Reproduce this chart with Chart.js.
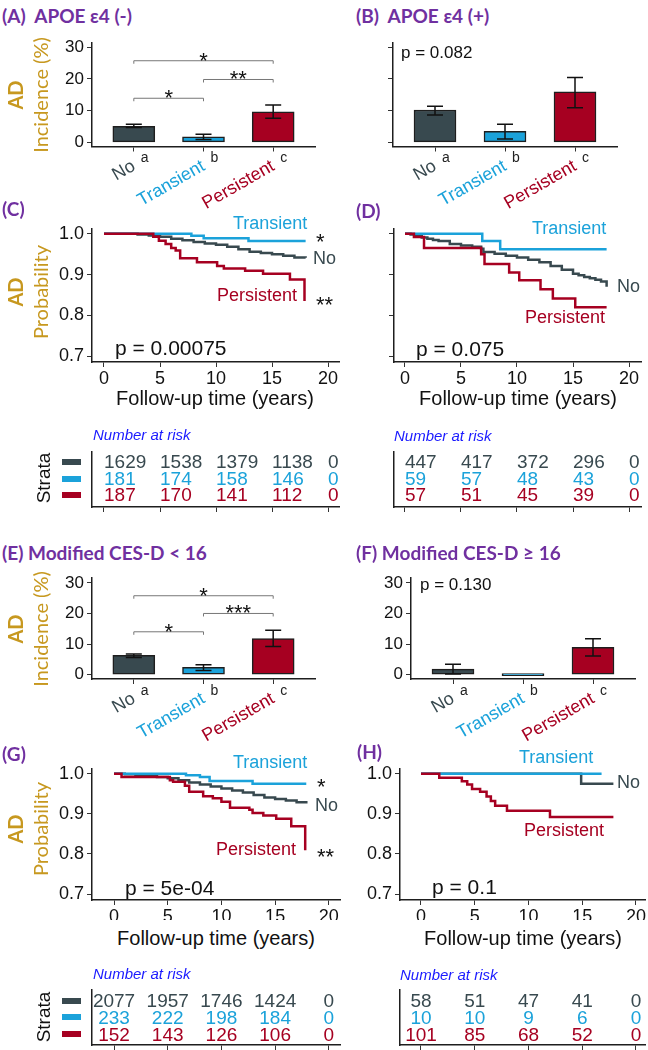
<!DOCTYPE html>
<html>
<head>
<meta charset="utf-8">
<script src="https://cdn.jsdelivr.net/npm/chart.js@4.4.1/dist/chart.umd.min.js"></script>
<style>
  body { margin: 0; background: #fff; }
  #page { position: relative; width: 648px; height: 1050px; overflow: hidden; font-family: "Liberation Sans", Arial, sans-serif; }
  canvas { position: absolute; }
  .t { position: absolute; white-space: pre; line-height: 1; }
</style>
</head>
<body>
<div id="page"></div>
<script>
// groups
const groups = ['No', 'Transient', 'Persistent'];
const groupLetters = ['a', 'b', 'c'];
const groupColors = ['#38494f', '#1ba2da', '#a60021'];

// AD incidence (%) per group, with error bar ends
const incA = [5.1, 1.8, 9.6];
const incA_lo = [4.7, 0.9, 7.6];
const incA_hi = [5.7, 2.6, 11.8];
const incB = [10.2, 3.5, 15.9];
const incB_lo = [8.6, 1.1, 10.9];
const incB_hi = [11.4, 5.7, 20.4];
const incE = [6.3, 2.4, 11.8];
const incE_lo = [5.6, 1.3, 9.2];
const incE_hi = [6.7, 3.2, 14.5];
const incF = [1.8, 0, 8.9];
const incF_lo = [0.2, 0, 6.1];
const incF_hi = [3.4, 0, 11.75];
const barTicks = [0, 10, 20, 30];

// pairwise brackets: [from group, to group, height, stars]
const bracketsA = [[1, 3, 25.7, '*'], [2, 3, 19.8, '**'], [1, 2, 13.9, '*']];
const bracketsE = [[1, 3, 25.8, '*'], [2, 3, 20.0, '***'], [1, 2, 14.0, '*']];

// Kaplan-Meier curves (time in years, probability free of AD)
const kmC_no_t = [0, 3, 4, 5, 6, 7, 8, 9, 10, 11, 12, 13, 14, 15, 16, 17, 18];
const kmC_no_s = [1, 0.998, 0.996, 0.993, 0.988, 0.984, 0.980, 0.976, 0.973, 0.968, 0.962, 0.956, 0.953, 0.950, 0.946, 0.942, 0.941];
const kmC_tr_t = [0, 7.8, 8.9, 12.9, 18];
const kmC_tr_s = [1, 0.995, 0.989, 0.982, 0.982];
const kmC_pe_t = [0, 4.4, 4.9, 5.5, 6.0, 6.4, 6.8, 8.3, 10.1, 10.7, 12.6, 14.2, 16.6, 17.9];
const kmC_pe_s = [1, 0.993, 0.983, 0.975, 0.965, 0.959, 0.940, 0.930, 0.921, 0.915, 0.909, 0.902, 0.888, 0.835];

const kmD_no_t = [0, 0.5, 1, 1.5, 2, 2.5, 3, 4, 5, 6, 6.8, 7, 8, 9, 10, 11, 12, 13, 14, 15, 15.5, 16, 16.5, 17, 17.5, 18];
const kmD_no_s = [1, 0.998, 0.994, 0.991, 0.988, 0.985, 0.982, 0.975, 0.971, 0.968, 0.963, 0.955, 0.951, 0.946, 0.942, 0.936, 0.930, 0.921, 0.912, 0.902, 0.898, 0.894, 0.891, 0.887, 0.883, 0.870];
const kmD_tr_t = [0, 6.9, 8.5, 18];
const kmD_tr_s = [1, 0.982, 0.962, 0.962];
const kmD_pe_t = [0, 0.8, 1.7, 6.8, 7.1, 9.3, 10.2, 12.1, 13.2, 15.2, 18];
const kmD_pe_s = [1, 0.992, 0.965, 0.950, 0.926, 0.905, 0.886, 0.864, 0.841, 0.820, 0.820];

const kmG_no_t = [0, 1, 2, 3, 4, 5, 6, 7, 8, 9, 10, 11, 12, 13, 14, 15, 16, 17, 17.9];
const kmG_no_s = [1, 0.999, 0.997, 0.995, 0.992, 0.989, 0.984, 0.978, 0.973, 0.968, 0.963, 0.958, 0.953, 0.947, 0.941, 0.937, 0.933, 0.929, 0.926];
const kmG_tr_t = [0, 6.7, 8.0, 8.9, 12.9, 17.9];
const kmG_tr_s = [1, 0.996, 0.992, 0.982, 0.975, 0.975];
const kmG_pe_t = [0, 0.7, 5.2, 5.5, 6.6, 7.0, 8.3, 9.2, 10.0, 10.8, 12.6, 12.9, 13.9, 15.1, 16.5, 17.8];
const kmG_pe_s = [1, 0.992, 0.984, 0.980, 0.970, 0.955, 0.944, 0.939, 0.930, 0.915, 0.910, 0.902, 0.896, 0.888, 0.869, 0.809];

const kmH_no_t = [0, 14.9, 17.9];
const kmH_no_s = [1, 0.975, 0.975];
const kmH_tr_t = [0, 16.8];
const kmH_tr_s = [1, 1];
const kmH_pe_t = [0, 1.7, 3.8, 4.3, 4.75, 5.5, 6.1, 6.5, 6.9, 8.0, 12.0, 17.9];
const kmH_pe_s = [1, 0.990, 0.981, 0.973, 0.962, 0.955, 0.943, 0.932, 0.920, 0.908, 0.892, 0.892];

const kmXTicks = [0, 5, 10, 15, 20];
const kmYTicks = [0.7, 0.8, 0.9, 1.0];

// number at risk
const riskTimes = [0, 5, 10, 15, 20];
const riskC_no = [1629, 1538, 1379, 1138, 0];
const riskC_tr = [181, 174, 158, 146, 0];
const riskC_pe = [187, 170, 141, 112, 0];
const riskD_no = [447, 417, 372, 296, 0];
const riskD_tr = [59, 57, 48, 43, 0];
const riskD_pe = [57, 51, 45, 39, 0];
const riskG_no = [2077, 1957, 1746, 1424, 0];
const riskG_tr = [233, 222, 198, 184, 0];
const riskG_pe = [152, 143, 126, 106, 0];
const riskH_no = [58, 51, 47, 41, 0];
const riskH_tr = [10, 10, 9, 6, 0];
const riskH_pe = [101, 85, 68, 52, 0];


const page = document.getElementById('page');
const SANS = '"Liberation Sans", Arial, sans-serif';
const GOLD = '#c7981f';
const PURPLE = '#7030a0';
Chart.defaults.font.family = SANS;

function makeCanvas(r) {
  const c = document.createElement('canvas');
  c.width = r.w; c.height = r.h;
  c.style.left = r.x + 'px'; c.style.top = r.y + 'px';
  c.style.width = r.w + 'px'; c.style.height = r.h + 'px';
  page.appendChild(c);
  return c;
}

function layoutFor(r, a) {
  return { padding: { left: 0, bottom: 0, top: a.t - r.y, right: r.x + r.w - a.r } };
}

function axisBase(min, max, ticks, fit, labelCb, fontSize) {
  return {
    type: 'linear', min: min, max: max,
    afterBuildTicks: s => { s.ticks = ticks.map(v => ({ value: v })); },
    afterFit: fit,
    grid: { display: true, drawOnChartArea: false, drawTicks: true, tickLength: 5, color: '#333', lineWidth: 1 },
    border: { display: true, color: '#1e1e1e', width: 1.5 },
    ticks: { font: { size: fontSize }, color: '#111', padding: 3, autoSkip: false, maxRotation: 0, minRotation: 0, callback: labelCb }
  };
}

// error bars, brackets and group letters on the bar panels
function barExtras(lo, hi, brackets) {
  return {
    id: 'barExtras',
    afterDatasetsDraw(chart) {
      const { ctx, scales: { x, y }, chartArea } = chart;
      ctx.save();
      ctx.strokeStyle = '#111';
      ctx.lineWidth = 1.5;
      lo.forEach((l, i) => {
        if (l === hi[i]) return;
        const px = x.getPixelForValue(i + 1);
        const y1 = y.getPixelForValue(l), y2 = y.getPixelForValue(hi[i]);
        ctx.beginPath();
        ctx.moveTo(px, y1); ctx.lineTo(px, y2);
        ctx.moveTo(px - 8, y1); ctx.lineTo(px + 8, y1);
        ctx.moveTo(px - 8, y2); ctx.lineTo(px + 8, y2);
        ctx.stroke();
      });
      ctx.strokeStyle = '#777';
      ctx.lineWidth = 1;
      ctx.fillStyle = '#111';
      ctx.font = '22px ' + SANS;
      ctx.textAlign = 'center';
      ctx.textBaseline = 'alphabetic';
      brackets.forEach(b => {
        const x1 = x.getPixelForValue(b[0]), x2 = x.getPixelForValue(b[1]);
        const py = y.getPixelForValue(b[2]);
        ctx.beginPath();
        ctx.moveTo(x1, py + 3); ctx.lineTo(x1, py); ctx.lineTo(x2, py); ctx.lineTo(x2, py + 3);
        ctx.stroke();
        ctx.fillText(b[3], (x1 + x2) / 2, py + 7);
      });
      ctx.font = '14px ' + SANS;
      ctx.fillStyle = '#222';
      ctx.textAlign = 'left';
      ctx.textBaseline = 'middle';
      groupLetters.forEach((g, i) => ctx.fillText(g, x.getPixelForValue(i + 1) + 7, chartArea.bottom + 12));
      ctx.restore();
    }
  };
}

function barChart(r, a, ymin, ymax, vals, lo, hi, brackets, showY) {
  const xs = axisBase(0.4, 3.6, [1, 2, 3], s => { s.height = r.y + r.h - a.b; }, v => groups[v - 1], 18);
  xs.offset = false;
  xs.grid.offset = false;
  xs.ticks.minRotation = 30;
  xs.ticks.maxRotation = 30;
  xs.ticks.padding = 4;
  xs.ticks.color = ctx => groupColors[ctx.index];
  new Chart(makeCanvas(r), {
    type: 'bar',
    data: {
      datasets: [{
        data: vals.map((v, i) => ({ x: i + 1, y: v })),
        backgroundColor: groupColors,
        borderColor: '#1e1e1e',
        borderWidth: 1.5,
        borderSkipped: false,
        barThickness: 42,
        minBarLength: 2
      }]
    },
    options: {
      responsive: false, animation: false, events: [],
      layout: layoutFor(r, a),
      plugins: { legend: { display: false }, tooltip: { enabled: false } },
      scales: {
        x: xs,
        y: axisBase(ymin, ymax, barTicks, s => { s.width = a.l - r.x; }, v => showY ? v : '', 17)
      }
    },
    plugins: [barExtras(lo, hi, brackets)]
  });
}

function kmChart(r, a, xmin, xmax, ymin, ymax, curves, showY) {
  const xs = axisBase(xmin, xmax, kmXTicks, s => { s.height = r.y + r.h - a.b; }, v => v, 18);
  xs.ticks.padding = 1;
  new Chart(makeCanvas(r), {
    type: 'line',
    data: {
      datasets: curves.map((c, i) => ({
        data: c.t.map((t, j) => ({ x: t, y: c.s[j] })),
        borderColor: groupColors[i],
        borderWidth: 2.5,
        stepped: true,
        pointRadius: 0,
        fill: false,
        order: 2 - i
      }))
    },
    options: {
      responsive: false, animation: false, events: [],
      layout: layoutFor(r, a),
      plugins: { legend: { display: false }, tooltip: { enabled: false } },
      scales: {
        x: xs,
        y: axisBase(ymin, ymax, kmYTicks, s => { s.width = a.l - r.x; }, v => showY ? v.toFixed(1) : '', 18)
      }
    }
  });
}

// risk table drawn on its own axes, numbers placed on the time scale
function riskTable(r, a, xmin, xmax, ymin, ymax, rows, align) {
  const numbers = {
    id: 'riskNumbers',
    afterDraw(chart) {
      const { ctx, scales: { x, y } } = chart;
      ctx.save();
      ctx.font = '19px ' + SANS;
      ctx.textAlign = align;
      ctx.textBaseline = 'middle';
      rows.forEach((row, k) => {
        ctx.fillStyle = groupColors[k];
        row.forEach((n, i) => ctx.fillText(String(n), x.getPixelForValue(riskTimes[i]), y.getPixelForValue(k) + 1));
      });
      ctx.restore();
    }
  };
  const xs = axisBase(xmin, xmax, riskTimes, s => { s.height = r.y + r.h - a.b; }, () => '', 10);
  xs.ticks.display = false;
  const ys = axisBase(ymin, ymax, [], s => { s.width = a.l - r.x; }, () => '', 10);
  ys.reverse = true;
  ys.ticks.display = false;
  ys.grid.drawTicks = false;
  new Chart(makeCanvas(r), {
    type: 'line',
    data: { datasets: [{ data: [] }] },
    options: {
      responsive: false, animation: false, events: [],
      layout: layoutFor(r, a),
      plugins: { legend: { display: false }, tooltip: { enabled: false } },
      scales: { x: xs, y: ys }
    },
    plugins: [numbers]
  });
}

function txt(s, x, y, css, anchor) {
  const d = document.createElement('div');
  d.className = 't';
  d.textContent = s;
  d.style.left = x + 'px';
  d.style.top = y + 'px';
  const tx = anchor === 'center' ? '-50%' : anchor === 'right' ? '-100%' : '0';
  d.style.transform = 'translate(' + tx + ',-50%)';
  Object.assign(d.style, css || {});
  page.appendChild(d);
  return d;
}
function vtxt(s, x, y, css) {
  const d = txt(s, x, y, css, 'center');
  d.style.transform = 'translate(-50%,-50%) rotate(-90deg)';
  return d;
}

// ---- bar panels
barChart({ x: 0, y: 30, w: 324, h: 190 }, { l: 92, t: 40, r: 315, b: 146.5 }, -1.28, 31.22, incA, incA_lo, incA_hi, bracketsA, true);
barChart({ x: 324, y: 30, w: 324, h: 190 }, { l: 393, t: 40, r: 617, b: 146.5 }, -1.28, 31.22, incB, incB_lo, incB_hi, [], false);
barChart({ x: 0, y: 565, w: 324, h: 180 }, { l: 92, t: 572, r: 315, b: 679 }, -1.45, 31.54, incE, incE_lo, incE_hi, bracketsE, true);
barChart({ x: 324, y: 565, w: 324, h: 180 }, { l: 411, t: 572, r: 635, b: 679 }, -1.45, 31.54, incF, incF_lo, incF_hi, [], true);

// ---- survival panels
kmChart({ x: 0, y: 215, w: 345, h: 185 }, { l: 92, t: 228, r: 339, b: 362 }, -1.071, 20.98, 0.6854, 1.0122,
  [{ t: kmC_no_t, s: kmC_no_s }, { t: kmC_tr_t, s: kmC_tr_s }, { t: kmC_pe_t, s: kmC_pe_s }], true);
kmChart({ x: 324, y: 215, w: 324, h: 185 }, { l: 394, t: 228, r: 641, b: 362 }, -0.98, 21.07, 0.6854, 1.0122,
  [{ t: kmD_no_t, s: kmD_no_s }, { t: kmD_tr_t, s: kmD_tr_s }, { t: kmD_pe_t, s: kmD_pe_s }], false);
kmChart({ x: 0, y: 755, w: 345, h: 165 }, { l: 92, t: 767, r: 340, b: 900 }, -2.05, 21.04, 0.6853, 1.0123,
  [{ t: kmG_no_t, s: kmG_no_s }, { t: kmG_tr_t, s: kmG_tr_s }, { t: kmG_pe_t, s: kmG_pe_s }], true);
kmChart({ x: 324, y: 755, w: 324, h: 165 }, { l: 400, t: 767, r: 645, b: 900 }, -1.953, 20.84, 0.6853, 1.0123,
  [{ t: kmH_no_t, s: kmH_no_s }, { t: kmH_tr_t, s: kmH_tr_s }, { t: kmH_pe_t, s: kmH_pe_s }], true);

// ---- risk tables
riskTable({ x: 0, y: 440, w: 345, h: 80 }, { l: 92, t: 452, r: 339, b: 507 }, -1.071, 20.98, -0.606, 2.727, [riskC_no, riskC_tr, riskC_pe], 'left');
riskTable({ x: 324, y: 440, w: 324, h: 80 }, { l: 394, t: 452, r: 641, b: 507 }, -0.98, 21.07, -0.606, 2.727, [riskD_no, riskD_tr, riskD_pe], 'left');
riskTable({ x: 0, y: 980, w: 345, h: 70 }, { l: 92, t: 990, r: 340, b: 1045 }, -2.05, 21.04, -0.65, 2.59, [riskG_no, riskG_tr, riskG_pe], 'center');
riskTable({ x: 324, y: 980, w: 324, h: 70 }, { l: 400, t: 990, r: 645, b: 1045 }, -1.953, 20.84, -0.65, 2.59, [riskH_no, riskH_tr, riskH_pe], 'center');

// ---- text
const titleCss = { font: 'bold 19px Lato, "Open Sans", sans-serif', color: PURPLE };
txt('(A)  APOE ε4 (-)', 2, 14.5, titleCss);
txt('(B)  APOE ε4 (+)', 356, 14.5, titleCss);
txt('(C)', 2, 208, titleCss);
txt('(D)', 356, 210, titleCss);
txt('(E) Modified CES-D < 16', 2, 552, titleCss);
txt('(F) Modified CES-D ≥ 16', 356, 552, titleCss);
txt('(G)', 2, 753, titleCss);
txt('(H)', 357, 751, titleCss);

const adCss = { font: 'bold 20px Lato, sans-serif', color: GOLD };
const ytCss = { font: '20px Lato, sans-serif', color: GOLD };
[[95, 'Incidence (%)'], [292, 'Probability'], [629, 'Incidence (%)'], [829, 'Probability']].forEach(p => {
  vtxt('AD', 15, p[0], adCss);
  vtxt(p[1], 40, p[0], ytCss);
});

const pBar = { font: '17px ' + SANS, color: '#111' };
const pKm = { font: '21px ' + SANS, color: '#111' };
txt('p = 0.082', 401, 53, pBar);
txt('p = 0.130', 420, 585, pBar);
txt('p = 0.00075', 115, 348, pKm);
txt('p = 0.075', 416, 349, pKm);
txt('p = 5e-04', 125, 888, pKm);
txt('p = 0.1', 432, 887, pKm);

const lab = c => ({ font: '18px ' + SANS, color: c });
const star = { font: '22px ' + SANS, color: '#111' };
txt('Transient', 233, 223, lab(groupColors[1]));
txt('*', 316, 242, star);
txt('No', 313, 258, lab(groupColors[0]));
txt('Persistent', 217, 295, lab(groupColors[2]));
txt('**', 316, 305, star);
txt('Transient', 532, 228, lab(groupColors[1]));
txt('No', 617, 286, lab(groupColors[0]));
txt('Persistent', 525, 317, lab(groupColors[2]));
txt('Transient', 233, 762, lab(groupColors[1]));
txt('*', 317, 787, star);
txt('No', 315, 805, lab(groupColors[0]));
txt('Persistent', 216, 849, lab(groupColors[2]));
txt('**', 317, 857, star);
txt('Transient', 519, 757, lab(groupColors[1]));
txt('No', 617, 782, lab(groupColors[0]));
txt('Persistent', 524, 830, lab(groupColors[2]));

const xtCss = { font: '20px ' + SANS, color: '#111' };
txt('Follow-up time (years)', 215, 398, xtCss, 'center');
txt('Follow-up time (years)', 518, 398, xtCss, 'center');
txt('Follow-up time (years)', 216, 938, xtCss, 'center');
txt('Follow-up time (years)', 523, 938, xtCss, 'center');

const narCss = { font: 'italic 15px ' + SANS, color: '#1a1aff' };
txt('Number at risk', 93, 434, narCss);
txt('Number at risk', 394, 435, narCss);
txt('Number at risk', 93, 973, narCss);
txt('Number at risk', 400, 974, narCss);

const strataCss = { font: '19px ' + SANS, color: '#111' };
vtxt('Strata', 44, 478, strataCss);
vtxt('Strata', 44, 1017, strataCss);
[[462, 478.5, 495], [1001, 1017, 1034]].forEach(ys => ys.forEach((yy, k) => {
  const d = document.createElement('div');
  d.style.cssText = 'position:absolute;left:62px;width:19px;height:6px;top:' + (yy - 3) + 'px;background:' + groupColors[k];
  page.appendChild(d);
}));
</script>
</body>
</html>
